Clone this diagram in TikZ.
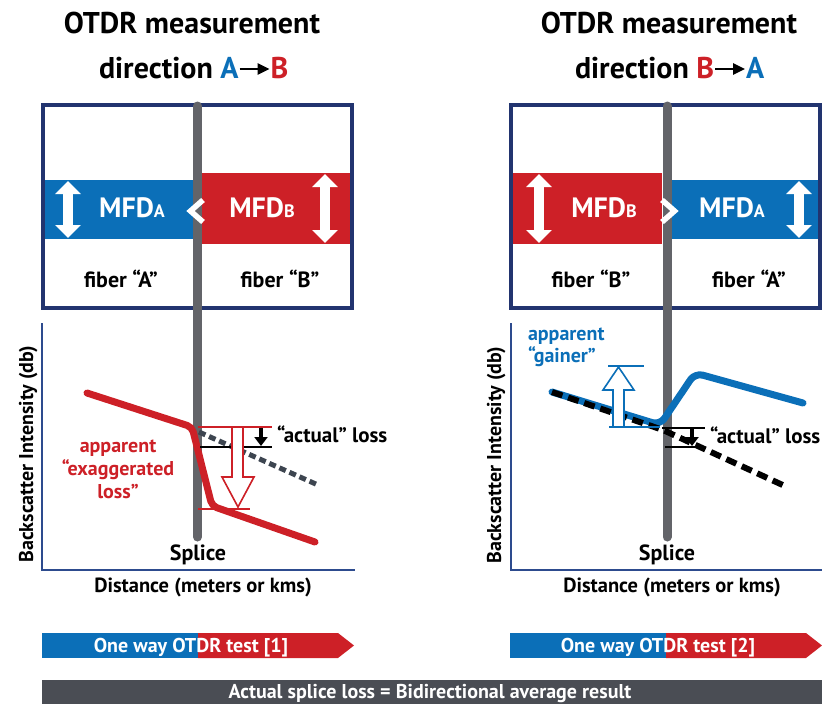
\documentclass[tikz,border=0pt]{standalone}
\usepackage{fontspec}
\setmainfont{PT Sans}
\usetikzlibrary{arrows.meta}
\definecolor{fibblue}{HTML}{0B6FB8}
\definecolor{fibred}{HTML}{CD2027}
\definecolor{navy}{HTML}{22346F}
\definecolor{axisnavy}{HTML}{2D4B8E}
\definecolor{splgray}{HTML}{636469}
\definecolor{dashgray}{HTML}{3D4550}
\definecolor{bargray}{HTML}{4A4D54}
\begin{document}
\begin{tikzpicture}[x=1pt,y=-1pt,
  every node/.style={inner sep=0pt, outer sep=0pt},
  title/.style={font=\fontsize{30}{30}\selectfont\bfseries, anchor=base},
  mfd/.style={font=\fontsize{28}{28}\selectfont\bfseries, text=white, anchor=base},
  fibertxt/.style={font=\fontsize{22}{22}\selectfont\bfseries, anchor=base},
  splicetxt/.style={font=\fontsize{22}{22}\selectfont\bfseries, anchor=base},
  axistxt/.style={font=\fontsize{20.5}{20.5}\selectfont\bfseries, anchor=base},
  ylabel/.style={font=\fontsize{20}{20}\selectfont\bfseries, anchor=base, rotate=90},
  losstxt/.style={font=\fontsize{21}{21}\selectfont\bfseries, anchor=base west},
  notetxt/.style={font=\fontsize{20}{20}\selectfont\bfseries, anchor=base},
  bartxt/.style={font=\fontsize{20}{20}\selectfont\bfseries, text=white, anchor=base},
  panel/.style={draw=navy, line width=4pt, fill=white},
  mfdarrow/.style={draw=white, line width=10pt,
    arrows={Triangle[width=25pt,length=13pt]-Triangle[width=25pt,length=13pt]}},
  chevron/.style={draw=white, line width=5.5pt, line join=miter},
  splice/.style={draw=splgray, line width=9pt, line cap=round},
  axis/.style={draw=axisnavy, line width=1.6pt},
  trace/.style={line width=7pt, line cap=round, line join=round},
  marker/.style={line width=1.3pt},
  lossarrow/.style={draw=black, line width=4pt, arrows={-Triangle[width=13pt,length=9pt]}},
  hollow/.style={line width=1.6pt, fill=white, line join=miter},
  dirarrow/.style={draw=black, line width=2.5pt, arrows={-Triangle[width=11pt,length=12pt]}}
]
\useasboundingbox (0,0) rectangle (822,704);

% ---------------- left panel: direction A -> B ----------------
\node[title] (titleL) at (192,33) {OTDR measurement};
\node[title, anchor=base west] (dirL) at (99,78) {direction \textcolor{fibblue}{A}};
\node[title, anchor=base west] (dirLB) at ([xshift=32pt]dirL.base east) {\textcolor{fibred}{B}};
\draw[dirarrow] ([xshift=1pt,yshift=9pt]dirL.base east) -- ([xshift=-1pt,yshift=9pt]dirLB.base west);

\draw[panel] (43,105) rectangle (352,308);
\fill[fibblue] (45,180) rectangle (193,239);
\fill[fibred] (202,173) rectangle (350,244);
\draw[mfdarrow] (68,181) -- (68,238);
\draw[mfdarrow] (325,174) -- (325,243);
\node[mfd] (mfdAL) at (132,217) {MFD{\fontsize{18}{18}\selectfont A}};
\node[mfd] (mfdBL) at (262,217) {MFD{\fontsize{18}{18}\selectfont B}};
\node[fibertxt] (fibAL) at (121,287) {fiber “A”};
\node[fibertxt] (fibBL) at (280,287) {fiber “B”};

% plot
\draw[axis] (42,323) -- (42,570) -- (355,570);
\node[ylabel] (ylabL) at (33,454) {Backscatter Intensity (db)};
\node[axistxt] (distL) at (203,592) {Distance (meters or kms)};
\draw[splice] (197.5,106) -- (197.5,537);
\draw[chevron] (203,200) -- (190.5,211) -- (203,222);
\node[splicetxt] (splL) at (198,560) {Splice};

\draw[dashgray, line width=5pt, dash pattern=on 7pt off 4pt] (199,432) -- (318,485);
\draw[fibred, trace, rounded corners=5pt] (87,393) -- (192,427) -- (212,506) -- (315,542);
\draw[fibred, marker] (198,427) -- (272,427);
\draw[fibred, marker] (198,509) -- (250,509);
\draw[black, marker] (200,447) -- (272,447);
\draw[fibred, hollow] (232,427) -- (232,477) -- (222,477) -- (238,507) -- (254,477) -- (243,477) -- (243,427) -- cycle;
\draw[lossarrow] (261,428) -- (261,446);
\node[losstxt] (lossL) at (277,442) {“actual” loss};
\node[notetxt, text=fibred] (appL1) at (118,452) {apparent};
\node[notetxt, text=fibred] (appL2) at (118,475) {“exaggerated};
\node[notetxt, text=fibred] (appL3) at (118,498) {loss”};

% ---------------- right panel: direction B -> A ----------------
\node[title] (titleR) at (669,33) {OTDR measurement};
\node[title, anchor=base west] (dirR) at (575,78) {direction \textcolor{fibred}{B}};
\node[title, anchor=base west] (dirRA) at ([xshift=32pt]dirR.base east) {\textcolor{fibblue}{A}};
\draw[dirarrow] ([xshift=1pt,yshift=9pt]dirR.base east) -- ([xshift=-1pt,yshift=9pt]dirRA.base west);

\draw[panel] (511,105) rectangle (820,308);
\fill[fibred] (513,173) rectangle (662,244);
\fill[fibblue] (672,180) rectangle (818,239);
\draw[mfdarrow] (539,174) -- (539,243);
\draw[mfdarrow] (799,181) -- (799,238);
\node[mfd] (mfdBR) at (604,217) {MFD{\fontsize{18}{18}\selectfont B}};
\node[mfd] (mfdAR) at (732,217) {MFD{\fontsize{18}{18}\selectfont A}};
\node[fibertxt] (fibBR) at (591,287) {fiber “B”};
\node[fibertxt] (fibAR) at (749,287) {fiber “A”};

% plot
\draw[axis] (511,323) -- (511,570) -- (822,570);
\node[ylabel] (ylabR) at (501,455) {Backscatter Intensity (db)};
\node[axistxt] (distR) at (672,592) {Distance (meters or kms)};
\draw[splice] (667,106) -- (667,537);
\draw[chevron] (662,200) -- (674.5,211) -- (662,222);
\node[splicetxt] (splR) at (667,560) {Splice};

\draw[fibblue, trace, rounded corners=8pt] (552,392) -- (660,425) -- (695,373) -- (803,403);
\draw[black, line width=6pt, dash pattern=on 11pt off 6pt] (552,392) -- (663,430) -- (787,487);
\draw[fibblue, marker] (608,366) -- (644,366);
\draw[fibblue, marker] (609,427) -- (660,427);
\draw[fibblue, hollow] (613,427) -- (613,390) -- (603,390) -- (618.5,367) -- (634,390) -- (624,390) -- (624,427) -- cycle;
\draw[black, marker] (662,428) -- (705,428);
\draw[black, marker] (665,447) -- (705,447);
\draw[lossarrow] (692,429) -- (692,446);
\node[losstxt] (lossR) at (710,443) {“actual” loss};
\node[notetxt, text=fibblue, anchor=base west] (appR1) at (528,340) {apparent};
\node[notetxt, text=fibblue, anchor=base west] (appR2) at (528,362) {“gainer”};

% ---------------- bottom bars ----------------
\fill[fibblue] (42,633) rectangle (198,658);
\fill[fibred] (198,633) -- (338,633) -- (354,645.5) -- (338,658) -- (198,658) -- cycle;
\node[bartxt] (test1) at (191,652) {One way OTDR test [1]};

\fill[fibblue] (510,633) rectangle (666,658);
\fill[fibred] (666,633) -- (806,633) -- (822,645.5) -- (806,658) -- (666,658) -- cycle;
\node[bartxt] (test2) at (658,652) {One way OTDR test [2]};

\fill[bargray] (42,680) rectangle (822,704);
\node[bartxt] (result) at (430,698) {Actual splice loss = Bidirectional average result};
\end{tikzpicture}
\end{document}
